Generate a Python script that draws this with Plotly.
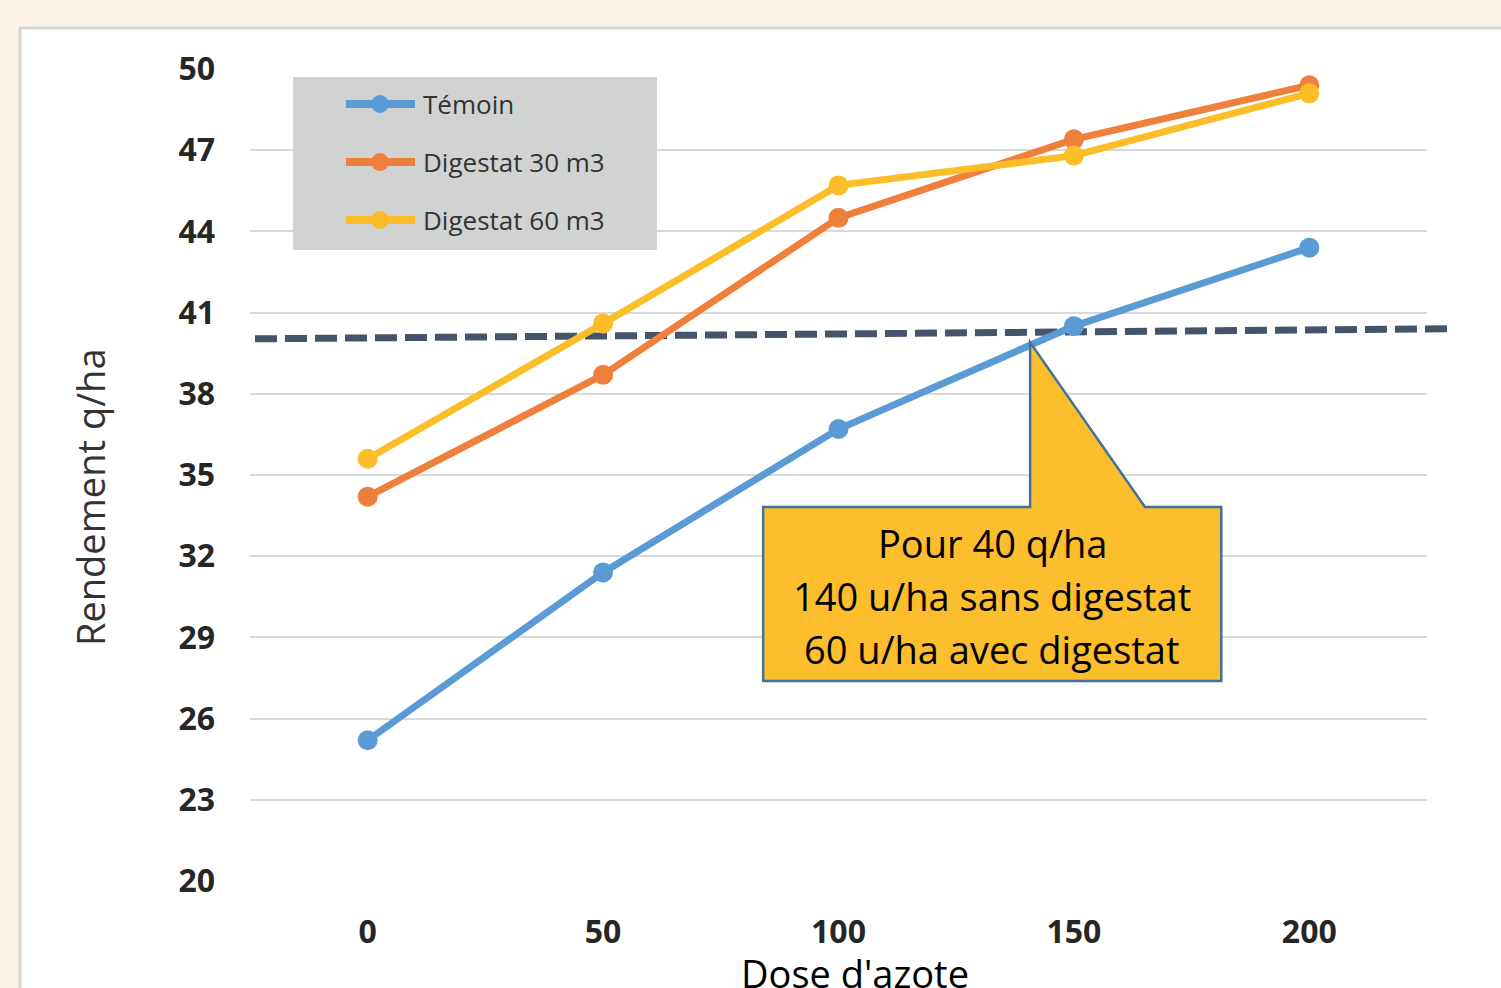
import plotly.graph_objects as go

# ---- data ----
doses = [0, 50, 100, 150, 200]
temoin = [25.2, 31.4, 36.7, 40.5, 43.4]
digestat30 = [34.2, 38.7, 44.5, 47.4, 49.4]
digestat60 = [35.6, 40.6, 45.7, 46.8, 49.1]
series_names = ["Témoin", "Digestat 30 m3", "Digestat 60 m3"]
series_colors = ["#5A9BD5", "#EE7F3C", "#FBBD28"]
y_ticks = [20, 23, 26, 29, 32, 35, 38, 41, 44, 47, 50]
x_ticks = [0, 50, 100, 150, 200]
ref_line_y = [40.03, 40.40]          # seuil 40 q/ha (trait pointillé)
callout_lines = ["Pour 40 q/ha", "140 u/ha sans digestat", "60 u/ha avec digestat"]
callout_tip = (140.7, 39.9)          # point visé par la bulle

W, H = 1501, 988
L, R, T, B = 250, 1427, 69, 881      # plot area in px

def px_x(p):
    return (p - L) / (R - L)

def px_y(p):
    return (B - p) / (B - T)

fig = go.Figure()
for name, vals, col in zip(series_names, [temoin, digestat30, digestat60], series_colors):
    fig.add_trace(go.Scatter(
        x=doses, y=vals, name=name, mode="lines+markers",
        line=dict(color=col, width=7),
        marker=dict(color=col, size=20),
        showlegend=False,
    ))

shapes = []
# white panel
shapes.append(dict(type="rect", xref="paper", yref="paper",
                   x0=px_x(20), x1=px_x(1520), y0=px_y(1010), y1=px_y(28),
                   fillcolor="white", line=dict(color="#D6D6D6", width=3), layer="below"))
# dashed reference line
shapes.append(dict(type="line", xref="paper", yref="y",
                   x0=px_x(255), x1=px_x(1447), y0=ref_line_y[0], y1=ref_line_y[1],
                   line=dict(color="#44546A", width=7, dash="22px,8px"), layer="below"))
# callout
bx0, bx1 = 84.0, 181.3
by0, by1 = 27.39, 33.82
px_base_l, px_base_r = 140.7, 165.1
path = (f"M {bx0},{by1} L {px_base_l},{by1} L {callout_tip[0]},{callout_tip[1]} "
        f"L {px_base_r},{by1} L {bx1},{by1} L {bx1},{by0} L {bx0},{by0} Z")
shapes.append(dict(type="path", xref="x", yref="y", path=path,
                   fillcolor="#FCBE2C", line=dict(color="#41719C", width=2.5), layer="above"))
# legend box
shapes.append(dict(type="rect", xref="paper", yref="paper",
                   x0=px_x(293), x1=px_x(657), y0=px_y(250), y1=px_y(77),
                   fillcolor="#D1D2D2", line=dict(width=0), layer="above"))

annotations = []
leg_y = [104, 162, 220]
for name, col, yy in zip(series_names, series_colors, leg_y):
    shapes.append(dict(type="line", xref="paper", yref="paper",
                       x0=px_x(346), x1=px_x(415), y0=px_y(yy), y1=px_y(yy),
                       line=dict(color=col, width=8), layer="above"))
    r = 9
    shapes.append(dict(type="circle", xref="paper", yref="paper",
                       x0=px_x(380 - r), x1=px_x(380 + r), y0=px_y(yy + r), y1=px_y(yy - r),
                       fillcolor=col, line=dict(width=0), layer="above"))
    annotations.append(dict(xref="paper", yref="paper", x=px_x(421), y=px_y(yy),
                            xanchor="left", yanchor="middle", showarrow=False, text=name,
                            font=dict(family="Open Sans", size=26, color="#333333")))

for line_txt, yy in zip(callout_lines, [543, 596, 649]):
    annotations.append(dict(xref="paper", yref="paper", x=px_x(992), y=px_y(yy),
                            xanchor="center", yanchor="middle", showarrow=False,
                            text=line_txt,
                            font=dict(family="Open Sans", size=38, color="#000000")))
# axis titles
annotations.append(dict(xref="paper", yref="paper", x=px_x(855), y=px_y(945),
                        xanchor="center", yanchor="top", showarrow=False,
                        text="Dose d'azote",
                        font=dict(family="Open Sans", size=38, color="#000000")))
annotations.append(dict(xref="paper", yref="paper", x=px_x(90), y=px_y(497),
                        xanchor="center", yanchor="middle", showarrow=False,
                        text="Rendement q/ha", textangle=-90,
                        font=dict(family="Open Sans", size=38, color="#333333")))

tickfont = dict(family="Open Sans", size=32, color="#262626", weight="bold")
fig.update_layout(
    width=W, height=H,
    margin=dict(l=L, r=W - R, t=T, b=H - B, pad=0),
    paper_bgcolor="#FAF1E7",
    plot_bgcolor="rgba(0,0,0,0)",
    shapes=shapes,
    annotations=annotations,
    xaxis=dict(range=[-25, 225], tickvals=x_ticks, showgrid=False, zeroline=False,
               showline=False, tickfont=tickfont, ticklabelstandoff=29, fixedrange=True),
    yaxis=dict(range=[20, 50], tickvals=y_ticks, showgrid=True, gridcolor="#D9D9D9",
               gridwidth=2, zeroline=False, showline=False, tickfont=tickfont,
               ticklabelstandoff=34, fixedrange=True),
    showlegend=False,
)

fig.write_html("out.html", config={"displayModeBar": False},
               post_script="document.body.style.margin='0';document.body.style.overflow='hidden';")
